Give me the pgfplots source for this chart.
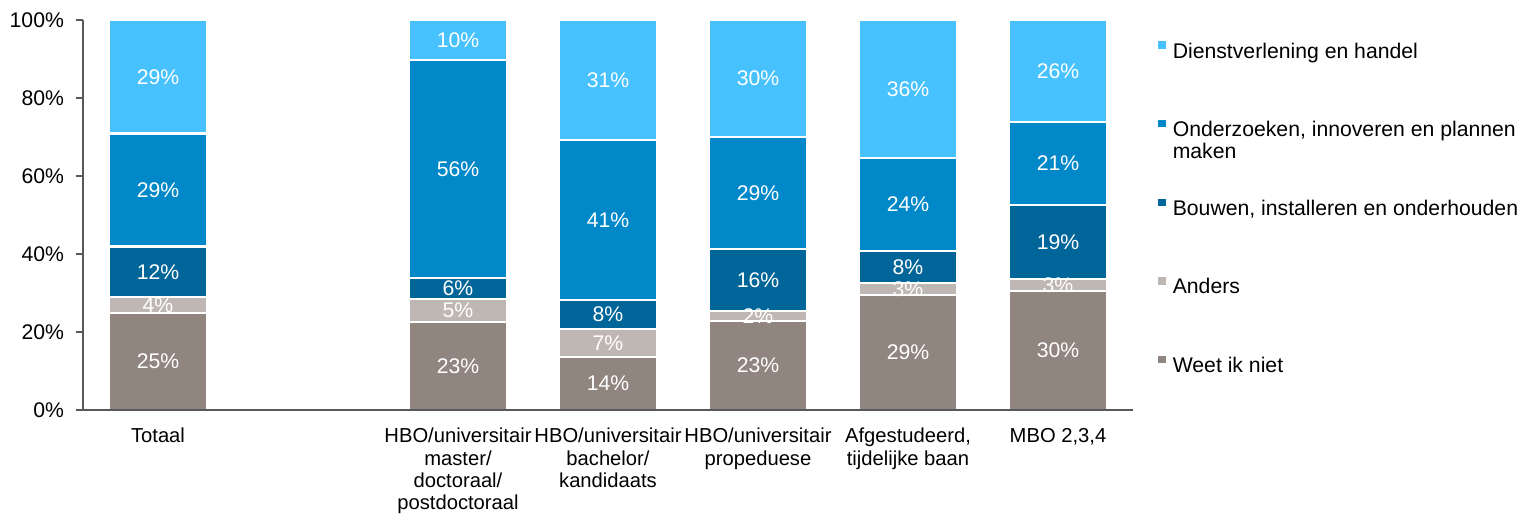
\documentclass[border=0pt]{standalone}
\usepackage{pgfplots}
\usepackage{pgfplotstable}
\pgfplotsset{compat=1.18}
\usepackage{fontspec}
\setmainfont{Liberation Sans}
\newcommand\f{\fontsize{10.6pt}{10.8pt}\selectfont}
\newcommand\fx{\fontsize{10.1pt}{11.2pt}\selectfont}
\definecolor{cDienst}{HTML}{47C2FF}
\definecolor{cOnder}{HTML}{0088C9}
\definecolor{cBouw}{HTML}{006699}
\definecolor{cAnders}{HTML}{BFB7B3}
\definecolor{cWeet}{HTML}{918580}
\definecolor{axgray}{HTML}{595959}

\pgfplotstableread{
x weet anders bouwen onder dienst lw la lb lo ld
0 24.9 4.1 12.9 29.0 29.1 25 4 12 29 29
2 22.6 5.9 5.3 55.9 10.3 23 5 6 56 10
3 13.6 7.2 7.4 41.0 30.8 14 7 8 41 31
4 22.8 2.6 15.9 28.7 30.0 23 2 16 29 30
5 29.5 3.1 8.2 23.8 35.4 29 3 8 24 36
6 30.5 3.1 19.0 21.2 26.2 30 3 19 21 26
}\data

\pgfplotsset{
  seg/.style n args={2}{
    fill=#1, draw=white, line width=1.1pt,
    every node near coord/.append style={anchor=center, text=white, font=\f},
  },
}

\begin{document}
\begin{tikzpicture}
\useasboundingbox (-41.5pt,-52pt) rectangle (719.5pt,205pt);
\begin{axis}[
  scale only axis,
  width=525pt, height=195pt,
  xmin=-0.5, xmax=6.5, ymin=0, ymax=100,
  ybar stacked, bar width=49pt,
  axis on top,
  axis lines*=left,
  axis line style={axgray, line width=0.9pt, -},
  xtick={0,2,3,4,5,6},
  xticklabels={Totaal,
    {HBO/universitair\\master/\\doctoraal/\\postdoctoraal},
    {HBO/universitair\\bachelor/\\kandidaats},
    {HBO/universitair\\propeduese},
    {Afgestudeerd,\\tijdelijke baan},
    {MBO 2,3,4}},
  xtick style={draw=none},
  xticklabel style={align=center, font=\fx, anchor=north, yshift=-2pt},
  ytick={0,20,40,60,80,100},
  yticklabels={0\%,20\%,40\%,60\%,80\%,100\%},
  yticklabel style={font=\f, xshift=-2.5pt},
  ytick style={axgray, line width=0.9pt},
  tick align=outside, major tick length=3.5pt,
  point meta=explicit symbolic,
  nodes near coords={\pgfplotspointmeta\%},
  reverse legend,
  legend cell align=left,
  legend style={at={(1.0238,0.946)}, anchor=north west, draw=none, fill=none,
    inner sep=0pt, row sep=29pt, column sep=3.5pt,
    nodes={inner sep=0pt, text height=7.5pt, text depth=2pt, font=\f}},
  legend image code/.code={\path[#1,draw=none] (0pt,1.85pt) rectangle (3.7pt,5.55pt);},
]
\addplot[seg={cWeet}{weet}] table[x=x, y=weet, meta=lw] {\data};
\addlegendentry{Weet ik niet}
\addplot[seg={cAnders}{anders}] table[x=x, y=anders, meta=la] {\data};
\addlegendentry{Anders}
\addplot[seg={cBouw}{bouwen}] table[x=x, y=bouwen, meta=lb] {\data};
\addlegendentry{Bouwen, installeren en onderhouden}
\addplot[seg={cOnder}{onder}] table[x=x, y=onder, meta=lo] {\data};
\addlegendentry{\smash{\parbox[t]{80mm}{Onderzoeken, innoveren en plannen\\maken}}}
\addplot[seg={cDienst}{dienst}] table[x=x, y=dienst, meta=ld] {\data};
\addlegendentry{Dienstverlening en handel}
\end{axis}
\end{tikzpicture}
\end{document}
